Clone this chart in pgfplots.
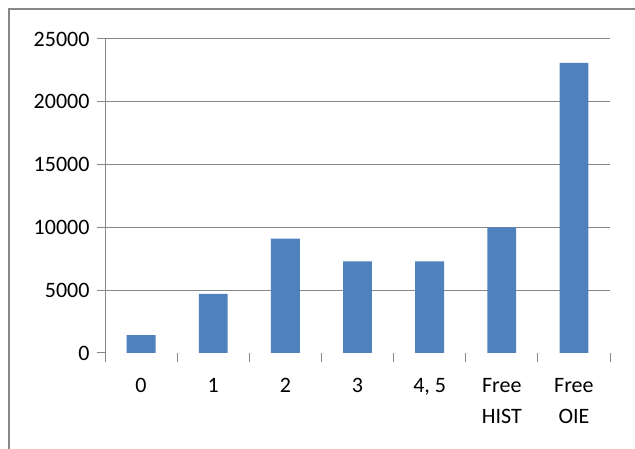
\documentclass[border=0pt]{standalone}
\usepackage{pgfplots}
\pgfplotsset{compat=1.18}
\usepackage{fontspec}
\setmainfont{Carlito}
\definecolor{barblue}{HTML}{4F81BD}
\definecolor{gridgray}{HTML}{868686}
\begin{document}
\begin{tikzpicture}[x=1bp,y=1bp]
\path[use as bounding box] (0,0) rectangle (635,449);
\draw[gridgray, line width=1.6bp] (9,0) -- (9,440) -- (640,440);
\begin{axis}[
  at={(105bp,96bp)}, anchor=south west,
  scale only axis, width=505bp, height=314bp,
  xmin=-0.5, xmax=6.5, ymin=0, ymax=25000,
  ybar, bar width=0.4,
  axis x line*=bottom, axis y line*=left,
  axis line style={gridgray, line width=1bp, -},
  x axis line style={draw=none},
  major grid style={gridgray, line width=1bp},
  scaled y ticks=false,
  ytick={0,5000,10000,15000,20000,25000},
  yticklabels={0,5000,10000,15000,20000,25000},
  extra y ticks={5000,10000,15000,20000,25000},
  extra y tick labels={},
  extra y tick style={ymajorgrids=true},
  xtick={0,1,2,3,4,5,6},
  xticklabels={0,1,2,3,{4, 5},{Free\\HIST},{Free\\OIE}},
  minor xtick={-0.5,0.5,1.5,2.5,3.5,4.5,5.5,6.5},
  tick align=outside,
  major tick length=8bp, minor tick length=9bp,
  major x tick style={draw=none},
  y tick style={gridgray, line width=1bp},
  minor x tick style={gridgray, line width=1bp},
  /pgf/number format/assume math mode=true,
  ticklabel style={font=\fontsize{22bp}{31bp}\selectfont, text=black},
  x tick label style={align=center, anchor=north, yshift=-14bp},
  y tick label style={xshift=-4bp},
]
\addplot[fill=barblue, draw=none] coordinates {(0,1420) (1,4700) (2,9100) (3,7300) (4,7300) (5,10000) (6,23100)};
\end{axis}
\end{tikzpicture}
\end{document}
